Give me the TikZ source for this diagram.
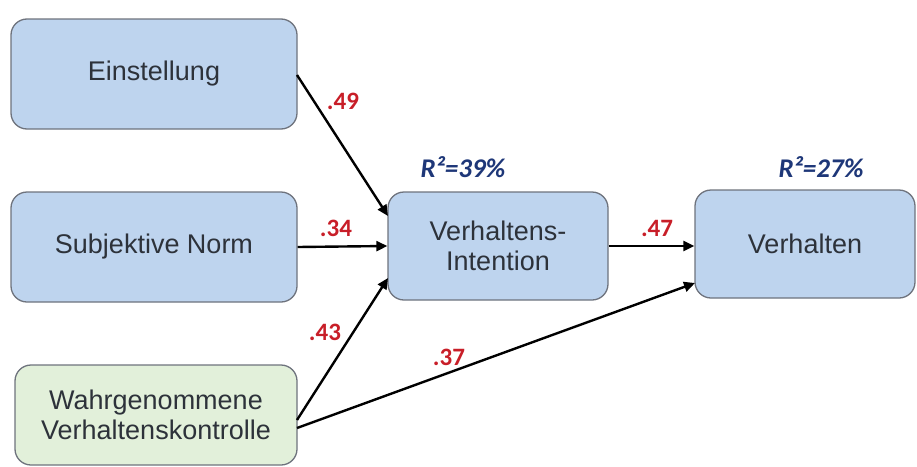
\documentclass[tikz,border=0pt]{standalone}
\usepackage{fontspec}
\setmainfont{Liberation Sans}
\newfontfamily\labfont{Carlito}
\usetikzlibrary{arrows.meta}
\definecolor{boxblue}{RGB}{190,212,238}
\definecolor{boxgreen}{RGB}{226,240,218}
\definecolor{boxline}{RGB}{110,115,125}
\definecolor{txtgray}{RGB}{45,50,58}
\definecolor{coefred}{RGB}{200,30,40}
\definecolor{rblue}{RGB}{30,55,120}
\tikzset{
  varbox/.style={draw=boxline, line width=1.3pt, rounded corners=16pt, fill=boxblue,
    text=txtgray, align=center, font=\fontsize{27}{30}\selectfont, inner sep=0pt},
  pathline/.style={line width=2.4pt, -{Triangle[length=11pt,width=10pt]}},
  coef/.style={text=coefred, font=\labfont\fontsize{25}{28}\selectfont\bfseries},
  rsq/.style={text=rblue, font=\labfont\fontsize{27}{30}\selectfont\bfseries\itshape},
}
\begin{document}
\begin{tikzpicture}[x=1pt,y=-1pt]
\useasboundingbox (0,0) rectangle (917,466);
\node[varbox, minimum width=286pt, minimum height=110pt] (ein) at (154,74) {Einstellung};
\node[varbox, minimum width=286pt, minimum height=110pt] (sub) at (154,247) {Subjektive Norm};
\node[varbox, fill=boxgreen, minimum width=282pt, minimum height=100pt] (wah) at (156,415) {Wahrgenommene\\Verhaltenskontrolle};
\node[varbox, minimum width=220pt, minimum height=108pt] (int) at (498,246) {Verhaltens-\\Intention};
\node[varbox, minimum width=220pt, minimum height=108pt] (ver) at (805,244) {Verhalten};
\coordinate (einout) at (297,75);
\coordinate (intin1) at (388,216);
\coordinate (intin3) at (388,278);
\coordinate (wahout1) at (297,420);
\coordinate (wahout2) at (297,428);
\coordinate (verin2) at (695,283);
\draw[pathline] (einout) -- (intin1);
\draw[pathline] (sub.east) -- (int.west);
\draw[pathline] (wahout1) -- (intin3);
\draw[pathline] (wahout2) -- (verin2);
\draw[pathline] (int.east) -- (ver.west |- int.east);
\node[coef] (c49) at (343,101) {.49};
\node[coef] (c34) at (336,228) {.34};
\node[coef] (c43) at (325,332) {.43};
\node[coef] (c37) at (449,357) {.37};
\node[coef] (c47) at (657,228) {.47};
\node[rsq] (r1) at (463,167) {R²=39\%};
\node[rsq] (r2) at (821,167) {R²=27\%};
\end{tikzpicture}
\end{document}
